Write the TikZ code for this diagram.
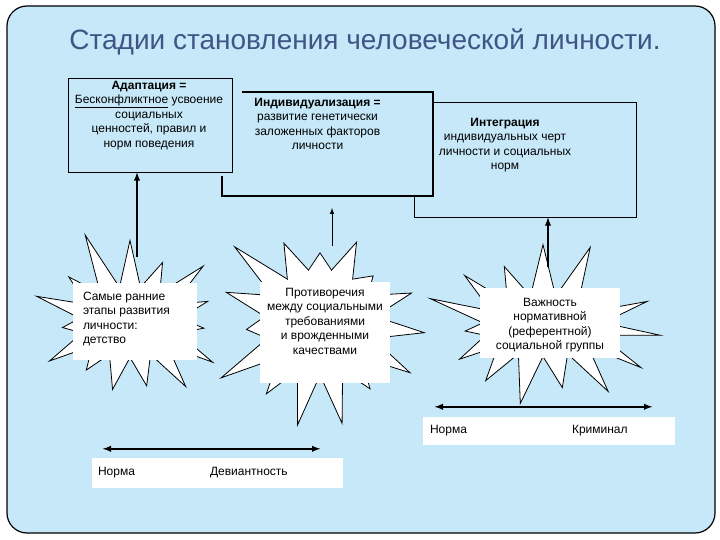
\documentclass[tikz,border=0pt]{standalone}
\usepackage{fontspec}
\setmainfont{Liberation Sans}
\usepackage{tikz}
\usetikzlibrary{shapes,arrows,positioning,calc}
\definecolor{skyblue}{RGB}{198, 232, 248}
\definecolor{titleslate}{RGB}{62, 86, 134}

\tikzset{
    stagebox/.style={draw, line width=0.8pt, fill=skyblue, inner sep=0pt},
    stagetext/.style={align=center, inner sep=0pt, font=\fontsize{12}{14.5}\selectfont},
    burst/.style={starburst, draw, fill=white, line width=0.8pt, starburst points=15, starburst point height=62pt},
    panel/.style={fill=white, inner sep=0pt},
    scaletext/.style={inner sep=0pt, font=\fontsize{12}{14.5}\selectfont}
}

\begin{document}
\begin{tikzpicture}[x=1pt, y=-1pt, >=latex]
    \useasboundingbox (0,0) rectangle (720,540);

    % Slide frame
    \draw[line width=1.2pt, fill=skyblue, rounded corners=20pt] (7,6) rectangle (715,533);

    % Title
    \node[color=titleslate, font=\fontsize{28}{32}\selectfont] (title) at (365,42) {Стадии становления человеческой личности.};

    % Stage boxes (back to front)
    \node[stagebox, minimum width=222pt, minimum height=115pt] (integr) at (525,159.5) {};
    \node[fill=skyblue, inner sep=0pt, minimum width=211pt, minimum height=104pt] (individ) at (327.5,144) {};
    \draw[line width=1.5pt] ($(individ.north west)+(20,0)$) -- (individ.north east) -- (individ.south east) -- (individ.south west) -- ($(individ.south west)+(0,-20)$);
    \node[stagebox, minimum width=164pt, minimum height=94pt] (adapt) at (150,125) {};

    % Box texts
    \node[stagetext, below=3pt of adapt.north, xshift=-1pt] {\textbf{Адаптация =}\\ \underline{Бесконфликтное} усвоение\\ социальных\\ ценностей, правил и\\ норм поведения};
    \node[stagetext, below=6pt of individ.north, xshift=-10pt] {\textbf{Индивидуализация =}\\ развитие генетически\\ заложенных факторов\\ личности};
    \node[stagetext, below=16pt of integr.north, xshift=-20pt] {\textbf{Интеграция}\\ индивидуальных черт\\ личности и социальных\\ норм};

    % Starbursts
    \node[burst, random starburst=11, minimum width=225pt, minimum height=195pt] (burstA) at (130,322) {};
    \node[burst, random starburst=23, minimum width=235pt, minimum height=230pt] (burstB) at (320,322) {};
    \node[burst, random starburst=37, minimum width=245pt, minimum height=185pt] (burstC) at (543,326) {};

    \node[panel, minimum width=124pt, minimum height=77pt] (paneA) at (135,321.5) {};
    \node[stagetext, align=left, anchor=north west] at ($(paneA.north west)+(10,9)$) {Самые ранние\\ этапы развития\\ личности:\\ детство};
    \node[panel, minimum width=130pt, minimum height=101pt] (paneB) at (325,332.5) {};
    \node[stagetext, below=6pt of paneB.north] {Противоречия\\ между социальными\\ требованиями\\ и врожденными\\ качествами};
    \node[panel, minimum width=140pt, minimum height=70pt] (paneC) at (550,323) {};
    \node[stagetext, below=10pt of paneC.north] {Важность\\ нормативной\\ (референтной)\\ социальной группы};

    % Arrows up to the stages
    \coordinate (tailA) at (137,257);
    \draw[->, line width=1.8pt] (tailA) -- (tailA |- adapt.south);
    \coordinate (tailB) at (332,246);
    \coordinate (headB) at (332,208);
    \draw[->, line width=1pt] (tailB) -- (headB);
    \coordinate (tailC) at (548,267);
    \draw[->, line width=1.8pt] (tailC) -- (tailC |- integr.south);

    % Scales
    \node[panel, minimum width=251pt, minimum height=30pt] (scaleA) at (217.5,473) {};
    \node[scaletext, right=6pt of scaleA.west] {Норма};
    \node[scaletext, right=118pt of scaleA.west] {Девиантность};
    \draw[<->, line width=1.8pt] ($(scaleA.north west)+(11,-9)$) -- ($(scaleA.north east)+(-23,-9)$);

    \node[panel, minimum width=252pt, minimum height=28pt] (scaleB) at (549,431) {};
    \node[scaletext, right=7pt of scaleB.west] {Норма};
    \node[scaletext, right=149pt of scaleB.west] {Криминал};
    \draw[<->, line width=1.8pt] ($(scaleB.north west)+(12,-10)$) -- ($(scaleB.north east)+(-23,-10)$);
\end{tikzpicture}
\end{document}
